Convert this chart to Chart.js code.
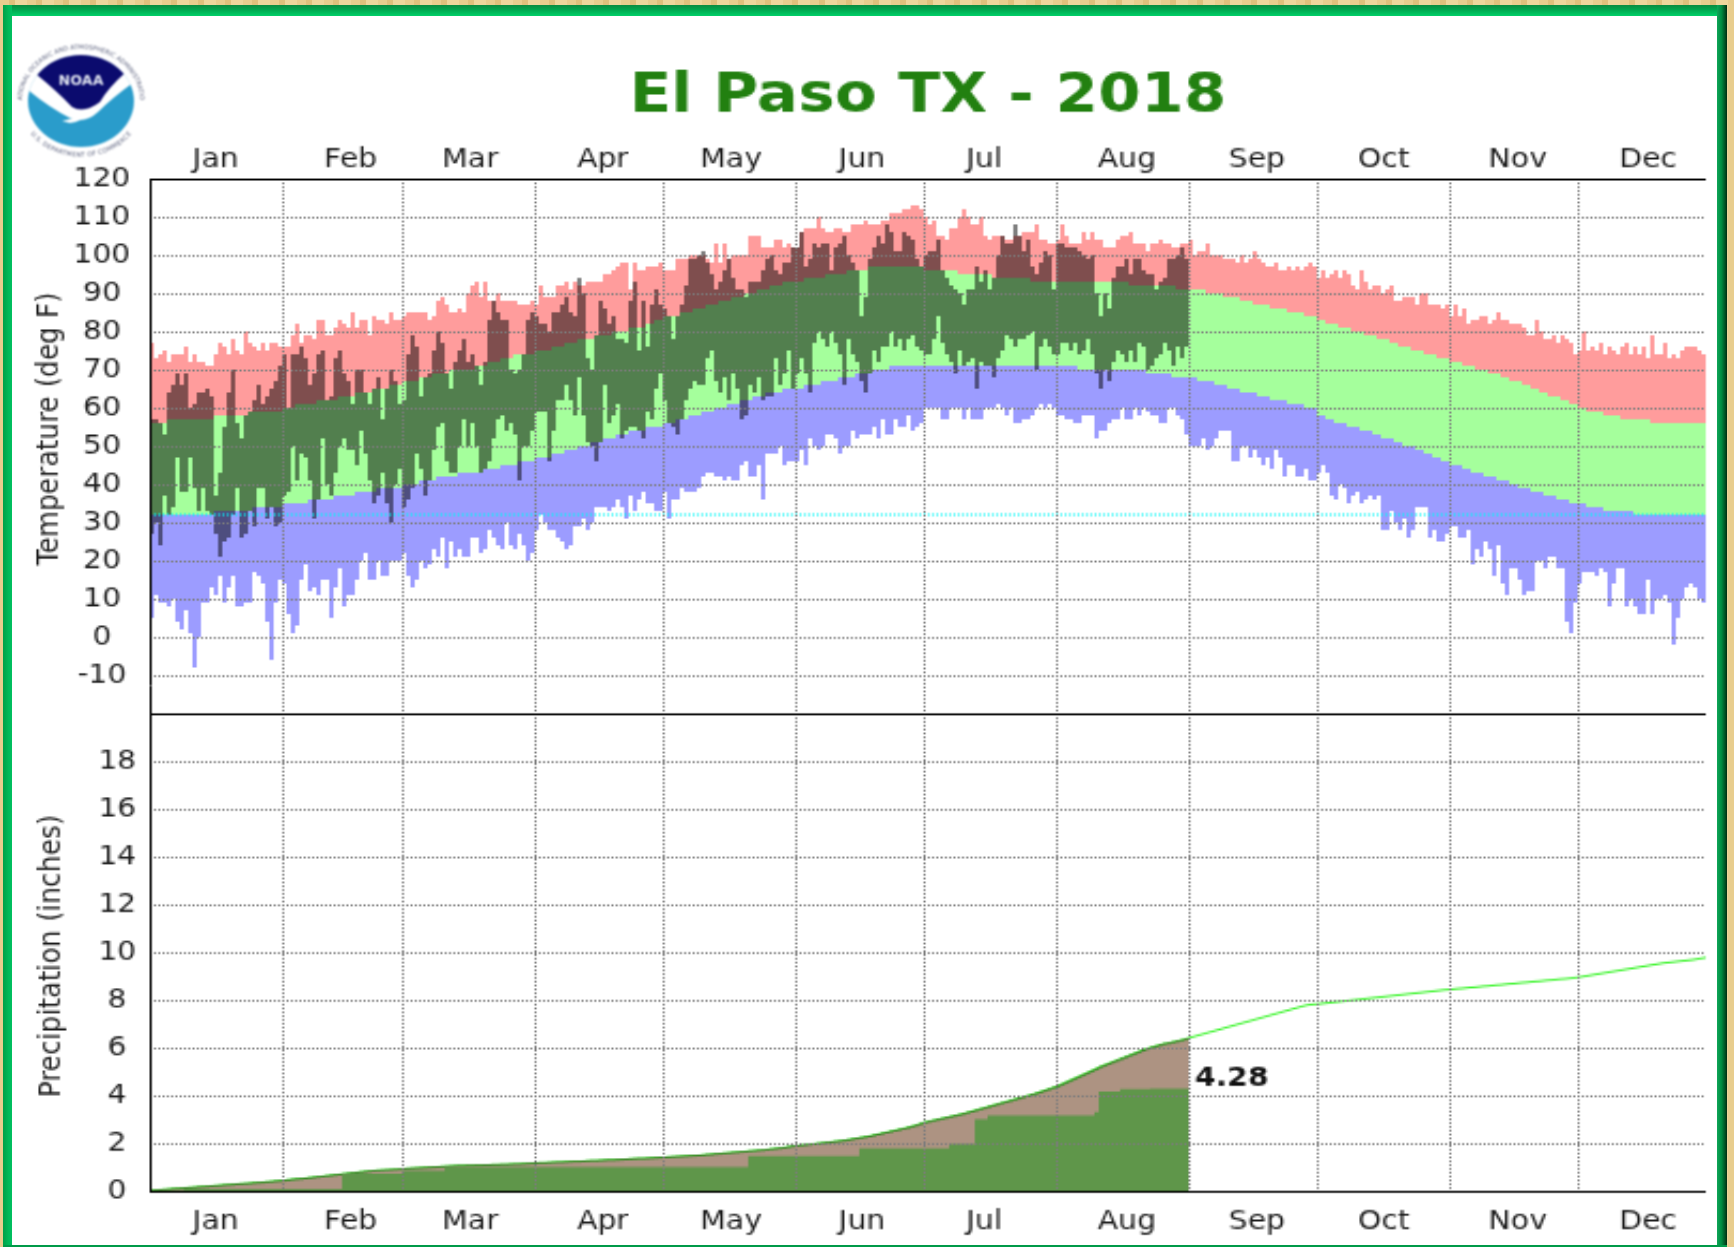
<!DOCTYPE html>
<html>
<head>
<meta charset="utf-8">
<title>El Paso TX - 2018</title>
<script src="https://cdn.jsdelivr.net/npm/chart.js@4"></script>
<style>
html,body{margin:0;padding:0;background:#e6c98a;overflow:hidden}
#page{position:relative;width:1734px;height:1247px;overflow:hidden;
 background:repeating-linear-gradient(90deg,#e8cd8e 0 9px,#dfc07c 9px 15px,#eed69c 15px 27px)}
#paper{position:absolute;left:12px;top:16px;width:1705px;height:1230px;background:#fff}
.f{position:absolute}
#ftop{left:3px;top:5px;width:1724px;height:11px;background:linear-gradient(180deg,#0a8c40,#00a850 45%,#00d068)}
#fleft{left:3px;top:5px;width:9px;height:1242px;background:linear-gradient(90deg,#00a048,#00b858 60%,#00c060)}
#fright{left:1717px;top:5px;width:10px;height:1242px;background:linear-gradient(90deg,#0ea658,#008a40 45%,#00491f 85%,#002a10)}
#fbot{left:3px;top:1245px;width:1724px;height:2px;background:#009a48}
#wrap{position:absolute;left:0;top:0;width:811px;height:653px;transform-origin:0 0;transform:translate(0,0.9px) scale(2.1375,1.91)}
#c{display:block}
#logo{position:absolute;left:0;top:0;filter:blur(.9px)}
</style>
</head>
<body>
<div id="page">
 <div id="paper"></div>
 <div id="wrap"><canvas id="c" width="811" height="653"></canvas></div>
 <svg id="logo" width="165" height="165" viewBox="0 0 165 165">
  <defs>
   <clipPath id="disk"><ellipse cx="81" cy="101" rx="53" ry="46"/></clipPath>
   <path id="arcT" d="M22,101 A59,52 0 0 1 140,101"/>
   <path id="arcB" d="M25,105 A56,47 0 0 0 137,105"/>
  </defs>
  <g clip-path="url(#disk)">
   <rect x="20" y="40" width="125" height="120" fill="#2a9ccb"/>
   <path d="M20,40 H145 V80 L134,82 Q112,98 98,112 Q85,124 70,118 Q50,108 28,90 L20,84 Z" fill="#fff"/>
   <path d="M36,74 L36,40 L126,40 L126,72 Q108,88 100,102 Q84,114 72,107 Q58,92 36,74 Z" fill="#0b0b6e"/>
   <path d="M62,121 Q80,117 94,111 Q84,121 70,123 Z" fill="#fff"/>
  </g>
  <text x="81" y="85" text-anchor="middle" font-family="DejaVu Sans" font-weight="700" font-size="14" fill="#dfe3ef" textLength="45">NOAA</text>
  <text font-family="DejaVu Sans" font-size="6.3" fill="#555b78"><textPath href="#arcT" startOffset="50%" text-anchor="middle">NATIONAL OCEANIC AND ATMOSPHERIC ADMINISTRATION</textPath></text>
  <text font-family="DejaVu Sans" font-size="6.3" fill="#555b78"><textPath href="#arcB" startOffset="50%" text-anchor="middle" dominant-baseline="hanging">U.S. DEPARTMENT OF COMMERCE</textPath></text>
 </svg>
 <div class="f" id="ftop"></div><div class="f" id="fleft"></div><div class="f" id="fright"></div><div class="f" id="fbot"></div>
</div>
<script>
const monthNames = ['Jan','Feb','Mar','Apr','May','Jun','Jul','Aug','Sep','Oct','Nov','Dec'];
const monthStartDays = [31,59,90,120,151,181,212,243,273,304,334];
const monthLabelDays = [15.4,47,75,106,136,166.6,195.2,228.6,259,288.7,320,350.5];
const temperatureTicks = [-10,0,10,20,30,40,50,60,70,80,90,100,110,120];
const precipitationTicks = [0,2,4,6,8,10,12,14,16,18];
const freezingLine = [32,32];
const ytdLabel = '4.28';

const recordHigh = [
/*Jan*/ 77,73,74,75,72,74,74,74,76,72,74,72,72,71,71,74,77,76,74,78,75,74,80,77,76,75,77,75,77,77,76,
/*Feb*/ 76,76,79,82,77,79,79,78,83,83,79,79,81,83,82,81,85,81,83,83,79,84,83,83,82,85,83,83,
/*Mar*/ 84,85,85,85,85,85,83,84,88,89,87,85,85,86,85,90,92,93,89,93,88,88,90,88,88,88,88,87,87,87,88,
/*Apr*/ 87,92,89,89,89,92,92,93,91,93,92,92,93,93,93,93,95,95,96,97,98,98,91,98,96,96,97,97,97,98,
/*May*/ 96,96,96,99,99,99,100,100,100,100,99,98,103,98,103,99,100,100,100,100,105,105,105,102,102,102,104,104,102,103,102,
/*Jun*/ 102,106,107,107,107,110,107,106,106,107,107,106,106,108,108,108,109,108,108,108,109,109,111,111,111,112,112,113,113,112,
/*Jul*/ 110,108,109,105,105,104,107,107,110,112,110,108,108,110,105,104,105,105,105,104,104,105,105,106,106,106,108,104,104,103,103,
/*Aug*/ 104,108,105,103,103,103,106,104,106,104,104,102,102,102,104,105,105,106,103,103,103,101,103,103,104,103,103,102,102,103,103,
/*Sep*/ 104,100,101,101,103,100,100,100,99,99,99,98,100,98,99,101,99,98,97,97,98,96,96,97,96,97,96,97,98,97,
/*Oct*/ 94,96,94,95,96,94,96,95,92,91,96,93,91,92,92,90,91,92,88,88,89,89,89,87,90,90,87,87,87,86,87,
/*Nov*/ 84,87,84,86,82,83,83,84,84,82,83,85,83,83,82,82,82,81,79,79,83,80,78,78,79,77,79,78,77,74,
/*Dec*/ 75,80,75,76,75,77,74,76,75,74,76,77,74,76,74,76,73,79,74,74,77,73,74,73,75,76,76,76,75,74,74
];
const normalHigh = [
/*Jan*/ 56,56,56,56,57,57,57,57,57,57,57,57,57,57,57,58,58,58,58,58,58,58,58,59,59,59,59,59,59,59,59,
/*Feb*/ 60,60,60,61,61,61,61,61,62,62,62,62,62,63,63,63,63,64,64,64,64,65,65,65,65,66,66,66,
/*Mar*/ 67,67,67,67,68,68,68,69,69,69,69,70,70,70,70,70,70,71,71,71,72,72,72,73,73,73,74,74,74,74,74,
/*Apr*/ 75,75,75,75,76,76,76,77,77,77,78,78,78,78,79,79,79,79,80,80,80,80,81,81,81,81,82,82,83,83,
/*May*/ 84,84,84,84,85,85,85,86,86,86,87,87,87,88,88,88,89,89,89,90,90,90,91,91,91,92,92,92,93,93,93,
/*Jun*/ 93,93,94,94,94,94,94,95,95,95,95,95,96,96,96,96,96,97,97,97,97,97,97,97,97,97,97,97,97,97,
/*Jul*/ 96,96,96,96,96,96,96,96,95,95,95,95,95,95,95,95,94,94,94,94,94,94,94,94,94,93,93,93,93,93,93,
/*Aug*/ 93,93,93,93,93,93,93,93,93,93,93,93,93,93,93,93,93,92,92,92,92,92,92,92,92,92,92,92,91,91,91,
/*Sep*/ 91,91,91,91,90,90,90,90,89,89,89,89,88,88,88,87,87,87,87,86,86,86,86,85,85,85,85,84,84,84,
/*Oct*/ 83,83,82,82,82,81,81,81,80,80,80,79,79,79,78,78,78,77,77,76,76,76,75,75,75,74,74,74,73,73,73,
/*Nov*/ 72,72,72,71,71,71,70,70,70,69,69,69,68,68,67,67,67,66,66,65,65,64,64,63,63,63,62,62,61,61,
/*Dec*/ 60,60,59,59,59,59,58,58,58,58,57,57,57,57,57,57,57,56,56,56,56,56,56,56,56,56,56,56,56,56,56
];
const normalLow = [
/*Jan*/ 32,32,32,32,32,32,32,32,32,32,32,32,32,32,32,33,33,33,33,33,33,33,33,33,34,34,34,34,34,34,34,
/*Feb*/ 35,35,35,35,35,35,36,36,36,36,36,36,37,37,37,37,37,38,38,38,38,38,39,39,39,39,39,39,
/*Mar*/ 40,40,40,40,41,41,41,41,42,42,42,42,42,43,43,43,43,43,43,44,44,44,44,45,45,45,45,46,46,46,46,
/*Apr*/ 47,47,47,47,48,48,48,49,49,49,50,50,50,51,51,51,52,52,52,53,53,53,54,54,54,54,55,55,55,55,
/*May*/ 56,56,56,57,57,57,58,58,58,59,59,59,60,60,60,61,61,61,62,62,62,63,63,63,64,64,64,64,65,65,65,
/*Jun*/ 65,65,66,66,66,66,67,67,67,67,68,68,68,68,69,69,69,69,70,70,70,70,71,71,71,71,71,71,71,71,
/*Jul*/ 71,71,71,71,71,71,71,71,71,71,71,71,71,71,71,71,71,71,71,71,71,71,71,71,71,71,71,71,71,71,71,
/*Aug*/ 71,71,71,71,71,70,70,70,70,70,70,70,70,70,70,70,70,70,70,70,70,69,69,69,69,69,69,68,68,68,68,
/*Sep*/ 68,68,67,67,67,67,66,66,66,65,65,65,64,64,64,64,63,63,63,62,62,62,62,61,61,61,61,60,60,60,
/*Oct*/ 58,58,57,57,56,56,56,55,55,55,54,54,54,53,53,52,52,52,51,51,50,50,50,49,49,48,48,47,47,46,46,
/*Nov*/ 45,45,45,44,44,43,43,43,42,42,42,41,41,41,40,40,39,39,39,38,38,38,37,37,37,36,36,36,35,35,
/*Dec*/ 35,35,34,34,34,34,33,33,33,33,33,33,33,32,32,32,32,32,32,32,32,32,32,32,32,32,32,32,32,32,32
];
const recordLow = [
/*Jan*/ 5,11,9,9,8,10,4,2,7,1,-8,0,9,9,13,11,16,9,13,16,8,8,9,9,17,16,14,4,-6,9,15,
/*Feb*/ 14,6,1,3,15,19,12,13,11,15,15,5,13,18,8,11,11,15,20,22,15,15,20,16,16,20,20,20,
/*Mar*/ 22,16,13,15,20,18,19,23,21,26,18,25,21,23,21,21,26,26,22,23,28,26,24,23,30,24,23,27,24,20,22,
/*Apr*/ 28,32,30,28,28,26,25,23,24,29,29,31,28,30,34,34,34,33,34,36,34,31,37,33,36,38,35,35,33,33,
/*May*/ 38,31,36,36,39,38,38,38,39,42,43,43,42,42,41,42,41,41,45,46,42,42,45,36,48,48,48,50,45,46,46,
/*Jun*/ 46,49,45,52,50,49,50,53,53,52,48,50,50,54,52,53,53,53,55,52,57,53,53,57,55,55,58,54,55,56,
/*Jul*/ 60,60,60,60,57,57,60,60,60,57,60,57,57,57,60,60,60,61,60,58,60,56,56,57,57,58,60,61,60,61,60,
/*Aug*/ 58,58,57,57,56,56,58,58,58,52,54,54,56,57,57,60,57,57,60,58,60,59,58,58,56,56,60,60,58,57,53,
/*Sep*/ 50,50,50,52,49,50,52,54,54,54,46,46,50,50,47,49,47,45,47,44,49,47,42,45,45,42,42,44,41,41,
/*Oct*/ 43,45,43,37,36,40,39,35,37,38,35,36,37,36,37,28,28,33,30,28,31,26,28,34,34,34,26,28,25,25,27,
/*Nov*/ 29,29,26,26,28,19,23,21,25,23,16,24,14,11,18,18,15,11,12,12,20,20,18,21,21,18,18,4,1,9,
/*Dec*/ 14,17,17,17,16,18,17,8,14,18,18,8,10,8,6,6,15,6,10,10,11,9,-2,5,10,13,14,13,10,9,9
];
const actualHigh = [
/*Jan*/ 57,57,56,53,64,66,69,66,69,60,61,64,64,65,63,37,43,55,64,70,56,52,58,59,62,66,61,63,65,67,71,
/*Feb*/ 74,60,74,74,76,73,66,69,74,75,62,63,73,75,69,67,61,70,70,64,61,65,68,57,65,70,67,61,
/*Mar*/ 62,74,79,76,63,68,69,75,80,77,69,65,72,75,78,72,74,71,66,72,83,88,85,83,83,70,69,70,74,83,85,
/*Apr*/ 84,82,82,80,85,85,87,89,85,84,94,90,73,70,79,88,86,82,84,78,78,77,88,93,75,88,76,87,91,87,
/*May*/ 86,84,78,84,87,92,99,99,100,101,98,95,91,93,96,99,94,91,91,89,93,93,93,96,99,100,96,95,98,98,102,
/*Jun*/ 102,106,97,99,103,102,103,103,96,102,103,105,100,98,96,84,89,99,102,105,103,108,106,101,101,106,105,104,99,97,
/*Jul*/ 100,101,101,104,96,94,92,91,90,87,91,91,97,93,96,91,94,100,105,103,103,108,105,101,104,97,95,98,101,100,91,
/*Aug*/ 103,103,102,102,102,101,100,99,100,90,84,90,86,94,97,97,99,95,99,99,96,95,95,91,93,94,99,99,100,102,99
];
const actualLow = [
/*Jan*/ 27,30,24,37,32,34,47,38,38,47,39,33,39,33,32,27,21,25,26,32,39,26,27,33,29,39,39,31,34,29,30,
/*Feb*/ 37,38,50,41,48,47,41,31,36,52,40,37,43,50,52,49,49,45,54,48,41,35,37,43,35,30,40,44,
/*Mar*/ 34,36,39,48,44,37,41,49,55,56,46,43,43,50,57,50,56,50,43,44,46,52,57,58,54,56,53,41,50,50,54,
/*Apr*/ 59,59,59,46,54,62,62,66,62,58,68,58,51,50,46,51,66,56,58,61,52,54,55,55,54,52,59,57,65,69,
/*May*/ 62,56,55,53,57,62,65,67,66,66,73,75,67,64,68,62,69,65,57,58,66,64,68,62,63,63,73,66,69,75,65,
/*Jun*/ 69,73,69,64,77,80,78,76,80,77,74,66,78,74,72,67,64,69,75,72,76,76,80,76,78,75,78,79,76,75,
/*Jul*/ 74,74,78,84,77,74,72,69,75,71,72,73,65,72,71,71,68,73,75,79,78,76,78,78,79,80,70,76,78,76,74,
/*Aug*/ 74,77,77,75,77,74,75,78,74,69,65,70,67,72,75,74,72,75,72,77,76,70,71,73,74,77,75,71,76,73,76
];
const normalPrecip = [
/*Jan*/ 0.01,0.02,0.04,0.05,0.06,0.08,0.09,0.10,0.12,0.13,0.14,0.16,0.17,0.18,0.20,0.21,0.22,0.24,0.25,0.26,0.28,0.29,0.30,0.31,0.33,0.34,0.35,0.37,0.38,0.40,0.41,
/*Feb*/ 0.43,0.45,0.47,0.49,0.50,0.52,0.54,0.56,0.58,0.60,0.62,0.64,0.66,0.68,0.70,0.72,0.74,0.76,0.78,0.80,0.82,0.84,0.85,0.86,0.87,0.88,0.89,0.90,
/*Mar*/ 0.92,0.93,0.94,0.95,0.96,0.97,0.98,0.99,1.00,1.01,1.02,1.03,1.04,1.05,1.05,1.06,1.06,1.07,1.07,1.08,1.08,1.09,1.09,1.10,1.10,1.11,1.12,1.12,1.13,1.14,1.15,
/*Apr*/ 1.16,1.17,1.17,1.18,1.19,1.20,1.20,1.21,1.22,1.23,1.23,1.24,1.25,1.26,1.26,1.27,1.28,1.29,1.29,1.30,1.31,1.32,1.33,1.34,1.35,1.35,1.36,1.37,1.38,1.39,
/*May*/ 1.40,1.41,1.42,1.43,1.44,1.45,1.46,1.47,1.48,1.49,1.51,1.52,1.54,1.55,1.57,1.58,1.60,1.61,1.63,1.64,1.66,1.67,1.69,1.70,1.72,1.74,1.76,1.78,1.80,1.83,1.86,
/*Jun*/ 1.88,1.90,1.92,1.94,1.96,1.98,2.00,2.02,2.04,2.06,2.08,2.10,2.13,2.16,2.19,2.22,2.25,2.28,2.32,2.36,2.40,2.44,2.48,2.52,2.56,2.60,2.64,2.69,2.74,2.80,
/*Jul*/ 2.86,2.90,2.94,2.98,3.02,3.06,3.10,3.14,3.18,3.22,3.27,3.32,3.37,3.42,3.47,3.52,3.57,3.62,3.67,3.72,3.77,3.82,3.87,3.92,3.97,4.02,4.07,4.13,4.19,4.25,4.31,
/*Aug*/ 4.37,4.45,4.53,4.61,4.69,4.77,4.85,4.93,5.01,5.09,5.18,5.25,5.32,5.39,5.46,5.53,5.60,5.67,5.74,5.81,5.88,5.95,6.00,6.05,6.10,6.15,6.18,6.22,6.26,6.30,6.35,
/*Sep*/ 6.40,6.45,6.50,6.55,6.60,6.65,6.70,6.75,6.80,6.85,6.90,6.95,7.00,7.05,7.10,7.15,7.20,7.25,7.30,7.35,7.40,7.45,7.50,7.55,7.60,7.65,7.70,7.75,7.79,7.81,
/*Oct*/ 7.82,7.84,7.86,7.88,7.90,7.92,7.94,7.96,7.98,8.00,8.02,8.04,8.06,8.08,8.10,8.12,8.14,8.16,8.18,8.20,8.22,8.24,8.26,8.28,8.30,8.32,8.34,8.36,8.38,8.40,8.42,
/*Nov*/ 8.43,8.45,8.47,8.48,8.50,8.52,8.53,8.55,8.57,8.58,8.60,8.62,8.63,8.65,8.67,8.68,8.70,8.72,8.73,8.75,8.77,8.78,8.80,8.82,8.83,8.85,8.87,8.88,8.90,8.92,
/*Dec*/ 8.94,8.97,9.00,9.03,9.06,9.09,9.12,9.15,9.18,9.21,9.24,9.27,9.30,9.33,9.36,9.39,9.42,9.45,9.48,9.51,9.54,9.56,9.58,9.60,9.62,9.64,9.66,9.68,9.71,9.74,9.77
];
const actualPrecip = [
/*Jan*/ 0,0,0.02,0.02,0.02,0.02,0.02,0.02,0.08,0.08,0.08,0.08,0.08,0.08,0.08,0.08,0.08,0.08,0.08,0.08,0.08,0.08,0.08,0.08,0.08,0.08,0.08,0.08,0.08,0.08,0.08,
/*Feb*/ 0.08,0.08,0.08,0.08,0.08,0.08,0.08,0.08,0.08,0.08,0.08,0.08,0.08,0.08,0.72,0.72,0.72,0.72,0.72,0.72,0.72,0.72,0.72,0.72,0.72,0.72,0.72,0.72,
/*Mar*/ 0.84,0.84,0.84,0.84,0.84,0.84,0.84,0.84,0.84,0.84,1,1,1,1,1,1,1,1,1,1,1,1,1,1,1,1,1,1,1,1,1,
/*Apr*/ 1,1,1,1,1,1,1,1,1,1,1,1,1,1,1,1,1,1,1,1,1,1,1,1,1,1,1,1,1,1,
/*May*/ 1,1,1,1,1,1,1,1,1,1,1,1,1,1,1,1,1,1,1,1,1.47,1.47,1.47,1.47,1.47,1.47,1.47,1.47,1.47,1.47,1.47,
/*Jun*/ 1.47,1.47,1.47,1.47,1.47,1.47,1.47,1.47,1.47,1.47,1.47,1.47,1.47,1.47,1.47,1.79,1.79,1.79,1.79,1.79,1.79,1.79,1.79,1.79,1.79,1.79,1.79,1.79,1.79,1.79,
/*Jul*/ 1.79,1.79,1.79,1.79,1.79,1.79,1.96,1.96,1.96,1.96,1.96,1.96,3,3,3,3.16,3.16,3.16,3.16,3.16,3.16,3.16,3.16,3.16,3.16,3.16,3.16,3.16,3.16,3.16,3.16,
/*Aug*/ 3.16,3.16,3.16,3.16,3.16,3.16,3.16,3.16,3.16,3.3,4.16,4.16,4.16,4.16,4.16,4.26,4.26,4.26,4.26,4.26,4.26,4.26,4.28,4.28,4.28,4.28,4.28,4.28,4.28,4.28,4.28
];

const daily = v => v.map((y,i)=>({x:i,y})).concat([{x:v.length,y:v[v.length-1]}]);
const ytdDays = actualPrecip.length;

const stepLine = (label,data,yAxisID,order,extra) => Object.assign({
  type:'line',label,data,yAxisID,xAxisID:'x',order,stepped:'before',
  pointRadius:0,borderWidth:0,fill:false,spanGaps:true,tension:0
},extra||{});

const datasets = [
  stepLine('Record high',daily(recordHigh),'yT',50,{fill:'+1',backgroundColor:'#ff9c9c'}),
  stepLine('Normal high',daily(normalHigh),'yT',49,{fill:'+1',backgroundColor:'#a5ff9c'}),
  stepLine('Normal low',daily(normalLow),'yT',48,{fill:'+1',backgroundColor:'#9c9cff'}),
  stepLine('Record low',daily(recordLow),'yT',47),
  stepLine('Actual high',daily(actualHigh),'yT',30,{fill:'+1',backgroundColor:'rgba(0,0,0,0.5)'}),
  stepLine('Actual low',daily(actualLow),'yT',29),
  stepLine('Freezing',[{x:0,y:freezingLine[0]},{x:364,y:freezingLine[1]}],'yT',20,{stepped:false,borderWidth:1,borderColor:'#00f8f8',borderDash:[1,1]}),
  stepLine('Normal precipitation',daily(normalPrecip),'yP',13,{stepped:false,borderWidth:1,borderColor:'#3cf52c'}),
  stepLine('Normal to date',daily(normalPrecip.slice(0,ytdDays)),'yP',12,{fill:'origin',backgroundColor:'#ad9382',borderWidth:1,borderColor:'#3f8a2c'}),
  stepLine('Actual precipitation',daily(actualPrecip),'yP',11,{fill:'origin',backgroundColor:'#5f964a'})
];

const font = {family:'"DejaVu Sans"',size:14};
const ink = '#1c1c1c';
const gridColor = '#7c7c7c';
const monthAxis = position => ({
  type:'linear',position,min:0,max:364,
  afterBuildTicks:s=>{s.ticks=monthLabelDays.map(value=>({value}));},
  afterFit:s=>{s.height=position==='top'?20:30;},
  grid:{display:false,drawTicks:false},border:{display:false},
  ticks:{font,color:ink,padding:position==='top'?1:8,autoSkip:false,maxRotation:0,minRotation:0,
         callback:(v,i)=>monthNames[i]}
});
const valueAxis = (ticks,min,max,weight,stackWeight,pad) => ({
  type:'linear',position:'left',stack:'panels',stackWeight,weight,min,max,
  afterBuildTicks:s=>{s.ticks=ticks.map(value=>({value}));},
  afterFit:s=>{s.width=70;},
  grid:{color:gridColor,z:1,drawTicks:false},
  border:{display:false,dash:[1,1]},
  ticks:{font,color:ink,padding:pad,crossAlign:'center',autoSkip:false,callback:v=>String(v)}
});

const overlay = {
  id:'overlay',
  afterDraw(chart){
    const {ctx,chartArea:a,scales} = chart;
    ctx.save();
    ctx.strokeStyle='#000';ctx.lineWidth=1;ctx.beginPath();
    const div=Math.round(scales.yP.top)+.5;
    [[a.left+.5,a.top,a.left+.5,a.bottom+1],[a.left,a.top+.5,a.right,a.top+.5],[a.left,div,a.right,div],[a.left,a.bottom+.5,a.right,a.bottom+.5]]
      .forEach(l=>{ctx.moveTo(l[0],l[1]);ctx.lineTo(l[2],l[3]);});
    ctx.stroke();
    ctx.fillStyle='#228010';ctx.textAlign='center';ctx.textBaseline='middle';
    ctx.font='bold 28.7px "DejaVu Sans"';
    ctx.fillText('El Paso TX - 2018',(a.left+a.right)/2,50.5);
    ctx.fillStyle=ink;ctx.font='14px "DejaVu Sans"';
    [['Temperature (deg F)',23.5,224],['Precipitation (inches)',24,500]].forEach(t=>{
      ctx.save();ctx.translate(t[1],t[2]);ctx.rotate(-Math.PI/2);ctx.fillText(t[0],0,0);ctx.restore();
    });
    ctx.fillStyle='#111';ctx.font='bold 14px "DejaVu Sans"';ctx.textAlign='left';ctx.textBaseline='bottom';
    ctx.fillText(ytdLabel,scales.x.getPixelForValue(ytdDays)+3,scales.yP.getPixelForValue(4.28)+2);
    ctx.restore();
  }
};

new Chart(document.getElementById('c'),{
  data:{datasets},
  plugins:[overlay],
  options:{
    responsive:false,animation:false,devicePixelRatio:1,parsing:true,normalized:true,
    layout:{padding:{top:73,right:13,left:0,bottom:0}},
    plugins:{legend:{display:false},tooltip:{enabled:false},title:{display:false},filler:{propagate:false}},
    scales:{
      x:{type:'linear',position:'bottom',min:0,max:364,
         afterBuildTicks:s=>{s.ticks=monthStartDays.map(value=>({value}));},
         afterFit:s=>{s.height=0;},
         grid:{color:gridColor,z:1,drawTicks:false},border:{display:false,dash:[1,1]},
         ticks:{display:false,autoSkip:false}},
      xTop:monthAxis('top'),
      xBottom:monthAxis('bottom'),
      yT:valueAxis(temperatureTicks,-20,120,2,280,9),
      yP:valueAxis(precipitationTicks,0,20,1,250,6.3)
    }
  }
});
</script>
</body>
</html>
